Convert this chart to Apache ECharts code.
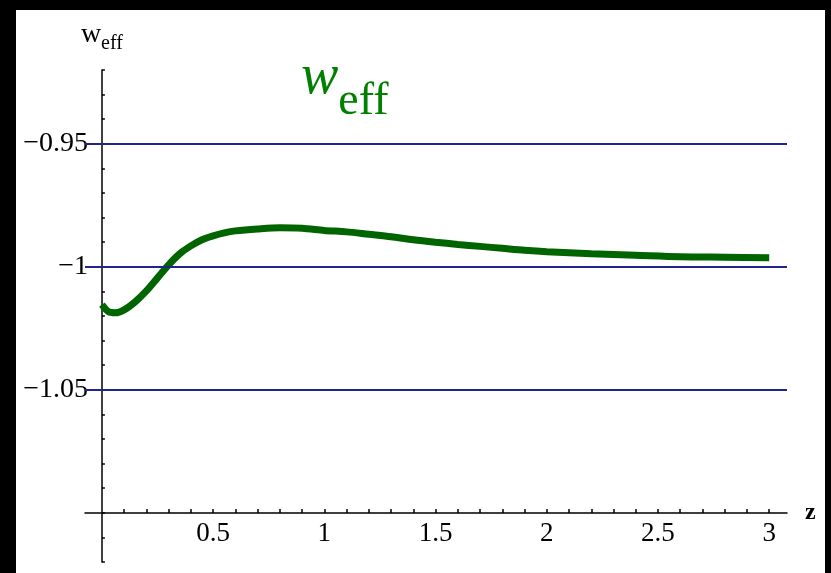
<!DOCTYPE html>
<html>
<head>
<meta charset="utf-8">
<script src="https://cdn.jsdelivr.net/npm/echarts@6/dist/echarts.min.js"></script>
<style>
  html, body { margin: 0; padding: 0; background: #000; }
  #chart { position: absolute; left: 16px; top: 10px; width: 809px; height: 563px; background: #fff; }
</style>
</head>
<body>
<div id="chart"></div>
<script>
// redshift z and effective equation of state w_eff
const zVals = [0, 0.03, 0.06, 0.1, 0.15, 0.2, 0.25, 0.3, 0.35, 0.4, 0.45, 0.5, 0.55, 0.6, 0.7, 0.8, 0.9,
  1.0, 1.1, 1.2, 1.3, 1.4, 1.5, 1.6, 1.7, 1.8, 1.9, 2.0, 2.2, 2.4, 2.6, 2.8, 3.0]
const wEff = [-1.0154, -1.0183, -1.0187, -1.0175, -1.0142, -1.0098, -1.0045, -0.9992, -0.9947, -0.9915,
  -0.9890, -0.9874, -0.9862, -0.9854, -0.9846, -0.9841, -0.9843, -0.9852, -0.9858, -0.9868, -0.9878,
  -0.9890, -0.9900, -0.9909, -0.9917, -0.9925, -0.9933, -0.9939, -0.9947, -0.9953, -0.9959, -0.9961, -0.9963]

// tick labels and reference lines
const xLabels = [0.5, 1, 1.5, 2, 2.5, 3]
const xTicks = [0.1, 0.2, 0.3, 0.4, 0.5, 0.6, 0.7, 0.8, 0.9, 1, 1.1, 1.2, 1.3, 1.4, 1.5, 1.6, 1.7, 1.8, 1.9, 2,
  2.1, 2.2, 2.3, 2.4, 2.5, 2.6, 2.7, 2.8, 2.9, 3]
const yLabels = [-1.05, -1, -0.95]
const refLines = [-1.05, -1, -0.95]

const serif = '"Liberation Serif", "DejaVu Serif", serif'

let myChart = echarts.init(document.getElementById('chart'))
let option = {
  animation: false,
  title: {
    left: 280,
    top: 35,
    text: '{w|w}{s|eff}',
    textStyle: {
      rich: {
        w: { fontFamily: serif, fontStyle: 'italic', fontWeight: 'normal', fontSize: 56, color: '#008000', verticalAlign: 'bottom', padding: [0, 0, 19, 0] },
        s: { fontFamily: serif, fontWeight: 'normal', fontSize: 46, color: '#008000', verticalAlign: 'bottom' }
      }
    }
  },
  grid: { left: 69, right: 38, top: 60, bottom: 11, outerBoundsMode: 'none', containLabel: false },
  xAxis: {
    type: 'value',
    min: -0.076,
    max: 3.08,
    offset: -49,
    name: 'z',
    nameLocation: 'end',
    nameGap: 18,
    nameTextStyle: { fontFamily: serif, fontSize: 24, fontWeight: 'bold', color: '#000' },
    axisLine: { onZero: false, lineStyle: { color: '#000', width: 1.5 } },
    axisTick: { show: true, inside: true, length: 4, customValues: xTicks, lineStyle: { color: '#000', width: 1.5 } },
    axisLabel: {
      customValues: xLabels,
      margin: 7,
      fontFamily: serif,
      fontSize: 27,
      color: '#000'
    },
    splitLine: { show: false }
  },
  yAxis: {
    type: 'value',
    min: -1.12,
    max: -0.92,
    interval: 0.01,
    name: '{w|w}{s|eff}',
    nameLocation: 'end',
    nameGap: 16,
    nameTextStyle: {
      rich: {
        w: { fontFamily: serif, fontSize: 28, color: '#000', verticalAlign: 'bottom', padding: [0, 0, 5, 0] },
        s: { fontFamily: serif, fontSize: 20, color: '#000', verticalAlign: 'bottom' }
      }
    },
    axisLine: { onZero: true, lineStyle: { color: '#000', width: 1.5 } },
    axisTick: { show: true, inside: true, length: 3, lineStyle: { color: '#000', width: 1.5 } },
    axisLabel: {
      customValues: yLabels,
      margin: -3,
      fontFamily: serif,
      fontSize: 28,
      color: '#000',
      formatter: v => String(v).replace('-', '\u2212')
    },
    splitLine: { show: false }
  },
  series: [{
    type: 'line',
    data: [],
    z: 1,
    silent: true,
    markLine: {
      silent: true,
      symbol: 'none',
      label: { show: false },
      lineStyle: { color: '#23238c', width: 2, type: 'solid' },
      data: refLines.map(v => ({ yAxis: v }))
    }
  }, {
    type: 'line',
    z: 3,
    data: zVals.map((z, i) => [z, wEff[i]]),
    showSymbol: false,
    smooth: 0.3,
    lineStyle: { color: '#006400', width: 7, cap: 'butt' }
  }]
}
myChart.setOption(option)
</script>
</body>
</html>
